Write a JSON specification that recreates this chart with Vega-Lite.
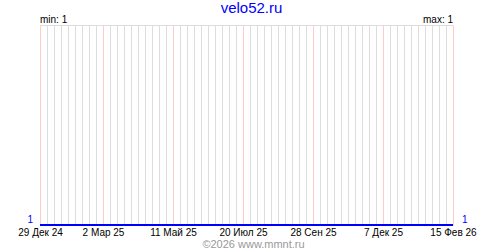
{
  "$schema": "https://vega.github.io/schema/vega-lite/v6.json",
  "autosize": "none",
  "width": 413,
  "height": 200,
  "padding": {"left": 40, "top": 25, "right": 47, "bottom": 25},
  "background": "white",
  "title": {"text": "velo52.ru", "color": "#0000ff", "fontSize": 15, "font": "Liberation Sans", "fontWeight": "normal", "baseline": "alphabetic", "offset": -13, "anchor": "middle", "dx": 5},
  "config": {"view": {"stroke": null}, "text": {"font": "Liberation Sans", "fontSize": 10}},
  "data": {"values": [
    {"date": "2024-12-29", "v": 1},
    {"date": "2026-02-15", "v": 1}
  ]},
  "encoding": {
    "x": {
      "field": "date", "type": "temporal",
      "scale": {"type": "utc", "domain": [1735430400000, 1771113600000]},
      "axis": {
        "tickCount": {"interval": "week", "step": 1},
        "grid": true,
        "gridColor": {"condition": {"test": "indexof([1735430400000,1740873600000,1746921600000,1752969600000,1759017600000,1765065600000,1771113600000], +datum.value) >= 0", "value": "#ffcccc"}, "value": "#dddddd"},
        "gridOpacity": 1,
        "ticks": false,
        "domain": false,
        "labelOverlap": false,
        "labelFlush": false,
        "labelBound": false,
        "labelFont": "Liberation Sans",
        "labelFontSize": 10,
        "labelColor": "#000000",
        "labelPadding": 2,
        "labelExpr": "indexof([1735430400000,1740873600000,1746921600000,1752969600000,1759017600000,1765065600000,1771113600000], +datum.value) >= 0 ? utcFormat(datum.value, '%-d') + ' ' + ['Янв','Фев','Мар','Апр','Май','Июн','Июл','Авг','Сен','Окт','Ноя','Дек'][utcmonth(datum.value)] + ' ' + utcFormat(datum.value, '%y') : ''",
        "title": "©2026 www.mmnt.ru",
        "titleColor": "#999999",
        "titleFont": "Liberation Sans",
        "titleFontSize": 11,
        "titleFontWeight": "normal",
        "titleBaseline": "alphabetic",
        "titlePadding": 10,
        "titleX": 213
      }
    },
    "y": {
      "field": "v", "type": "quantitative",
      "scale": {"domain": [1, 2]},
      "axis": {"values": [2], "grid": true, "gridColor": "#dddddd", "gridOpacity": 1, "labels": false, "ticks": false, "domain": false, "title": null}
    }
  },
  "layer": [
    {"mark": {"type": "line", "color": "#0000ff", "strokeWidth": 2, "clip": false}},
    {"data": {"values": [{"date": "2024-12-29", "v": 2, "label": "min: 1"}]},
     "mark": {"type": "text", "align": "left", "baseline": "alphabetic", "dy": -2, "color": "#000000"},
     "encoding": {"text": {"field": "label"}}},
    {"data": {"values": [{"date": "2026-02-15", "v": 2, "label": "max: 1"}]},
     "mark": {"type": "text", "align": "right", "baseline": "alphabetic", "dy": -2, "color": "#000000"},
     "encoding": {"text": {"field": "label"}}},
    {"data": {"values": [{"date": "2024-12-29", "v": 1, "label": "1"}]},
     "mark": {"type": "text", "align": "right", "baseline": "alphabetic", "dx": -7, "dy": -2, "color": "#0000ff"},
     "encoding": {"text": {"field": "label"}}},
    {"data": {"values": [{"date": "2026-02-15", "v": 1, "label": "1"}]},
     "mark": {"type": "text", "align": "left", "baseline": "alphabetic", "dx": 9, "dy": -2, "color": "#0000ff"},
     "encoding": {"text": {"field": "label"}}}
  ]
}
